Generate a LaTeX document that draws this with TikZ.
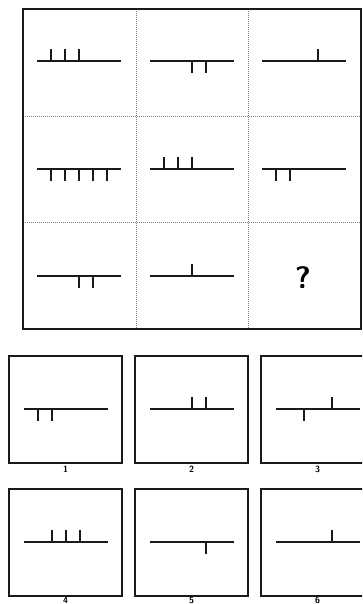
\documentclass[tikz,border=0pt]{standalone}
\usepackage{tikz}
\usetikzlibrary{calc}
\definecolor{inkc}{HTML}{1A1A1A}
\definecolor{divc}{HTML}{808080}
% one little figure: a bar of six steps, ticks given as position/side (1 up, -1 down)
\newcommand{\stickfig}[2]{%
  \draw[bar] (#1) -- ++(84,0);
  \foreach \k/\s in {#2} \draw[bar] ($(#1)+(14*\k,0)$) -- ++(0,-12*\s);
}

\begin{document}
\begin{tikzpicture}[x={(1pt,0)},y={(0,-1pt)},
  bar/.style={draw=inkc,line width=1.7pt},
  frame/.style={draw=inkc,line width=1.7pt},
  divider/.style={draw=divc,line width=0.9pt,dash pattern=on 1pt off 1pt},
  optlabel/.style={font=\sffamily\bfseries\fontsize{9}{9}\selectfont,inner sep=0pt},
]
\clip (0,0) rectangle (362,604);
\useasboundingbox (0,0) rectangle (362,604);

% the matrix
\draw[divider] (136,9) -- (136,329) (248,9) -- (248,329);
\draw[divider] (23,116) -- (361,116) (23,222) -- (361,222);
\draw[frame] (23,9) rectangle (361,329);

\coordinate (a11) at (37,61);
\coordinate (a12) at (150,61);
\coordinate (a13) at (262,61);
\coordinate (a21) at (37,169);
\coordinate (a22) at (150,169);
\coordinate (a23) at (262,169);
\coordinate (a31) at (37,276);
\coordinate (a32) at (150,276);

\stickfig{a11}{1/1,2/1,3/1}
\stickfig{a12}{3/-1,4/-1}
\stickfig{a13}{4/1}
\stickfig{a21}{1/-1,2/-1,3/-1,4/-1,5/-1}
\stickfig{a22}{1/1,2/1,3/1}
\stickfig{a23}{1/-1,2/-1}
\stickfig{a31}{3/-1,4/-1}
\stickfig{a32}{3/1}
\node[font=\sffamily\bfseries\fontsize{31}{31}\selectfont,inner sep=0pt]
  (ask) at (303,278) {?};

% the answers
\foreach \n/\x/\y/\ly in {1/9/356/469,2/135/356/469,3/261/356/469,
                          4/9/489/600.5,5/135/489/600.5,6/261/489/600.5}{
  \draw[frame] (\x,\y) rectangle ++(113,107);
  \node[optlabel] (lab\n) at (\x+56.5,\ly) {\n};
  \coordinate (o\n) at ($(\x,\y)+(15,53)$);
}
\stickfig{o1}{1/-1,2/-1}
\stickfig{o2}{3/1,4/1}
\stickfig{o3}{2/-1,4/1}
\stickfig{o4}{2/1,3/1,4/1}
\stickfig{o5}{4/-1}
\stickfig{o6}{4/1}
\end{tikzpicture}
\end{document}
